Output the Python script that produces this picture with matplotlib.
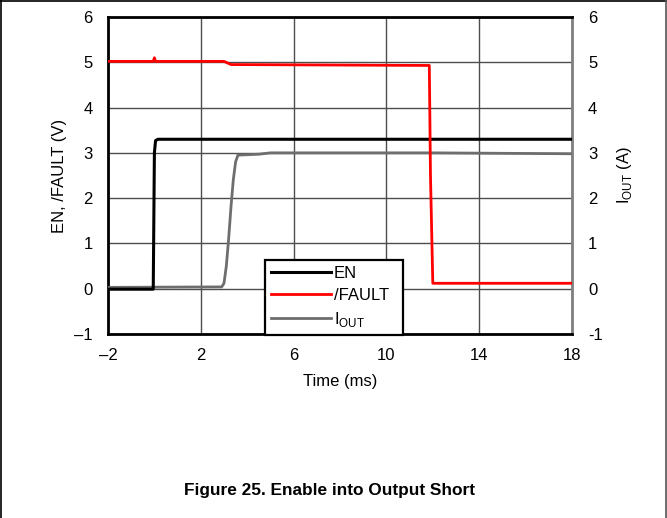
import matplotlib
matplotlib.use("Agg")
import matplotlib.pyplot as plt

plt.rcParams['font.family'] = ['Liberation Sans', 'DejaVu Sans']

# Data (time in ms)
en_t = [-2.0, -0.05, 0.0, 0.05, 0.15, 18.0]
en_v = [-0.01, -0.01, 3.0, 3.27, 3.30, 3.30]

fault_t = [-2.0, -0.05, 0.0, 0.05, 3.0, 3.3, 11.85, 11.9, 12.0, 18.0]
fault_v = [5.02, 5.02, 5.1, 5.02, 5.02, 4.95, 4.93, 2.5, 0.12, 0.12]

iout_t = [-2.0, 2.9, 3.0, 3.1, 3.2, 3.3, 3.4, 3.5, 3.6, 4.5, 5.0, 12.0, 18.0]
iout_v = [0.03, 0.04, 0.12, 0.5, 1.1, 1.8, 2.4, 2.8, 2.95, 2.97, 3.00, 3.00, 2.98]

xticks = [-2, 2, 6, 10, 14, 18]
xticklabels = ['–2', '2', '6', '10', '14', '18']
yticks = [-1, 0, 1, 2, 3, 4, 5, 6]
yticklabels = ['–1', '0', '1', '2', '3', '4', '5', '6']
y2ticklabels = ['-1', '0', '1', '2', '3', '4', '5', '6']

fig = plt.figure(figsize=(6.67, 5.18), dpi=100)
ax = fig.add_axes([108/667, 1-334/518, 464/667, 317/518])

grid_c = '#4d4d4d'
for xt in xticks:
    ax.axvline(xt, color=grid_c, lw=1, zorder=1)
for yt in yticks:
    ax.axhline(yt, color=grid_c, lw=1, zorder=1)

ax.plot(iout_t, iout_v, color='#6e6e6e', lw=2.0, label='I$_{\\mathregular{OUT}}$', zorder=3)
ax.plot(en_t, en_v, color='black', lw=2.2, label='EN', zorder=4)
ax.plot(fault_t, fault_v, color='#ff0000', lw=2.0, label='/FAULT', zorder=5)

fs = 12
ax.set_xlim(-2, 18)
ax.set_ylim(-1, 6)
ax.set_xticks(xticks)
ax.set_xticklabels(xticklabels)
ax.set_yticks(yticks)
ax.set_yticklabels(yticklabels)
ax.tick_params(axis='y', length=0, labelsize=fs, pad=11)
ax.tick_params(axis='x', length=0, labelsize=fs, pad=10)

for s in ['left', 'top', 'bottom']:
    ax.spines[s].set_linewidth(2)
    ax.spines[s].set_color('black')
ax.spines['right'].set_linewidth(2)
ax.spines['right'].set_color('#7f7f7f')

ax2 = ax.twinx()
ax2.set_ylim(-1, 6)
ax2.set_yticks(yticks)
ax2.set_yticklabels(y2ticklabels)
ax2.tick_params(length=0, labelsize=fs, pad=11.5)
for s in ax2.spines.values():
    s.set_visible(False)

ax.set_xlabel('Time (ms)', fontsize=fs, labelpad=8)
ax.set_ylabel('EN, /FAULT (V)', fontsize=fs, labelpad=5)
ax2.set_ylabel('I$_{\\mathregular{OUT}}$ (A)', fontsize=fs, labelpad=9)

h, l = ax.get_legend_handles_labels()
order = [1, 2, 0]
leg = ax.legend([h[i] for i in order], [l[i] for i in order],
                loc='upper left', bbox_to_anchor=(0.338, 0.0, 0.298, 0.233),
                mode='expand',
                fontsize=fs, frameon=True, fancybox=False,
                borderaxespad=0, handlelength=3.6, handletextpad=0.2,
                labelspacing=0.42, borderpad=0.35)
leg.get_frame().set_edgecolor('black')
leg.get_frame().set_linewidth(1.6)
leg.get_frame().set_alpha(1)
leg.set_zorder(10)

fig.text(330/667, 1-490/518, 'Figure 25. Enable into Output Short', ha='center',
         va='center', fontsize=12.4, fontweight='bold')

# figure border (left, top, right)
fig.add_artist(plt.Line2D([0.5/667, 0.5/667], [0, 1], color='black', lw=1.2, transform=fig.transFigure))
fig.add_artist(plt.Line2D([0, 1], [1-0.5/518, 1-0.5/518], color='black', lw=1.2, transform=fig.transFigure))
fig.add_artist(plt.Line2D([1-0.7/667, 1-0.7/667], [0, 1], color='#555555', lw=1.2, transform=fig.transFigure))

fig.savefig('out.png', dpi=100)
